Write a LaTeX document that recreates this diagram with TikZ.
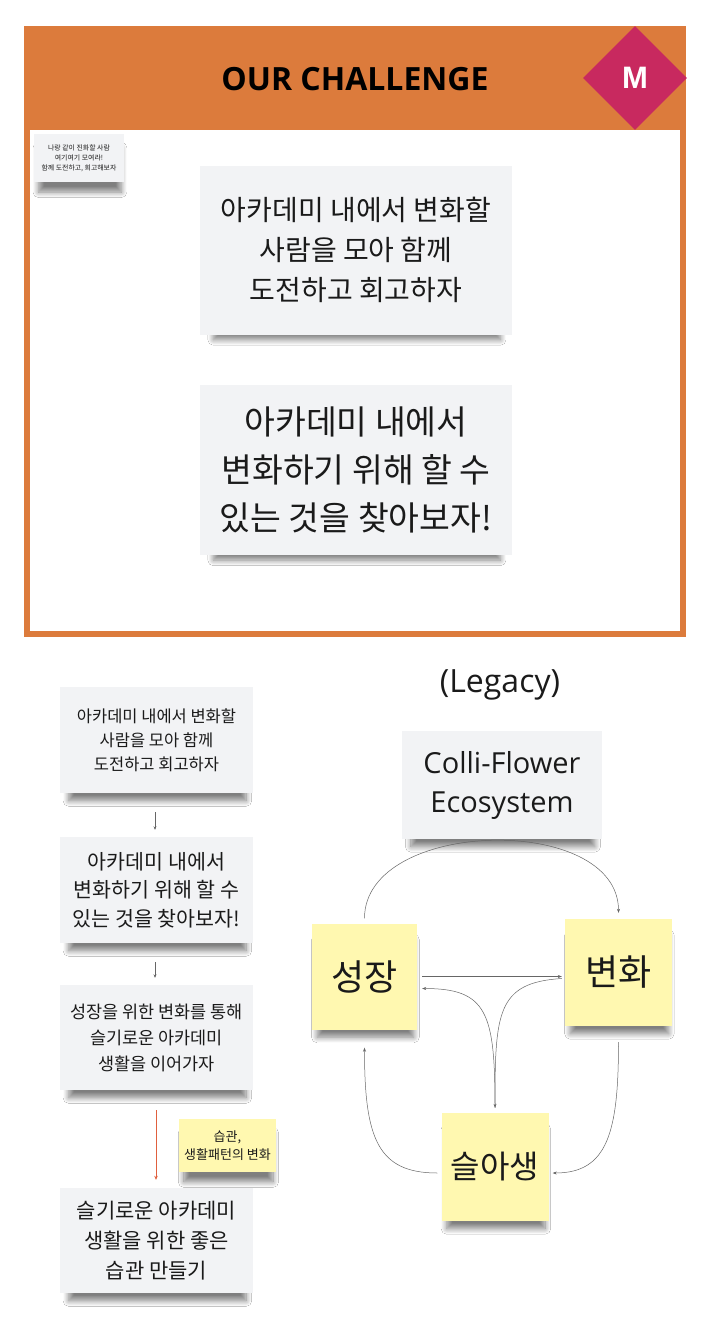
\documentclass[tikz,border=0pt]{standalone}
\usepackage{fontspec}
\setmainfont{Open Sans}
\newfontfamily\kr{Noto Sans CJK KR}
\newfontfamily\arialb{Liberation Sans}
\usetikzlibrary{shadows.blur,arrows.meta,shapes.geometric}
\definecolor{orng}{HTML}{DC7B3C}
\definecolor{mag}{HTML}{C8295F}
\definecolor{notegray}{HTML}{F2F3F5}
\definecolor{noteyel}{HTML}{FFF8B0}
\definecolor{arrgray}{HTML}{666666}
\definecolor{redarr}{HTML}{E0603E}
\definecolor{txt}{HTML}{1A1A1A}
\begin{document}
\begin{tikzpicture}[x=1pt,y=-1pt,
  notebase/.style={rectangle,inner sep=0pt,align=center,text=txt,
    blur shadow={shadow xshift=1pt,shadow yshift=-13pt,shadow scale=0.92,shadow blur radius=6pt,shadow blur steps=12,shadow opacity=50}},
  graynote/.style={notebase,fill=notegray},
  yelnote/.style={notebase,fill=noteyel},
  kfont/.style 2 args={font=\kr\fontsize{#1}{#2}\selectfont},
  smallarr/.style={draw=arrgray,line width=0.5pt,-{Stealth[length=3.5pt,width=3pt]}},
  redarrow/.style={draw=redarr,line width=0.6pt,-{Stealth[length=4pt,width=3.5pt]}},
  cycarr/.style={draw=arrgray,line width=0.5pt,-{Stealth[length=4pt,width=3pt]}}
]
\useasboundingbox (0,0) rectangle (714,1330);
\fill[white] (0,0) rectangle (714,1330);
% frame
\fill[orng] (24,26) rectangle (686,637);
\fill[white] (30,130) rectangle (680,631);
\node[font=\bfseries\fontsize{32}{32}\selectfont,text=black] (title) at (355,79) {OUR CHALLENGE};
\node[diamond,aspect=1,fill=mag,minimum width=104pt,minimum height=104pt,inner sep=0pt,text=white,
  font=\arialb\bfseries\fontsize{31}{31}\selectfont] (m) at (635,78) {M};
% top notes
\node[graynote,minimum width=90pt,minimum height=48pt,kfont={6.9}{10}] (small) at (79,158)
  {나랑 같이 진화할 사람\\여기여기 모여라!\\함께 도전하고, 회고해보자};
\node[graynote,minimum width=312pt,minimum height=169pt,kfont={28}{40}] (top1) at (356,250)
  {아카데미 내에서 변화할\\사람을 모아 함께\\도전하고 회고하자};
\node[graynote,minimum width=312pt,minimum height=170pt,kfont={33.5}{48}] (top2) at (356,470)
  {아카데미 내에서\\변화하기 위해 할 수\\있는 것을 찾아보자!};
% bottom left column
\node[graynote,minimum width=193pt,minimum height=106pt,kfont={16.5}{24}] (l1) at (156.5,740)
  {아카데미 내에서 변화할\\사람을 모아 함께\\도전하고 회고하자};
\node[graynote,minimum width=193pt,minimum height=106pt,kfont={20.6}{28.5}] (l2) at (156.5,890)
  {아카데미 내에서\\변화하기 위해 할 수\\있는 것을 찾아보자!};
\node[graynote,minimum width=193pt,minimum height=105pt,kfont={17.5}{26}] (l3) at (156.5,1037.5)
  {성장을 위한 변화를 통해\\슬기로운 아카데미\\생활을 이어가자};
\node[graynote,minimum width=193pt,minimum height=105pt,kfont={21}{30}] (l4) at (156.5,1240.5)
  {슬기로운 아카데미\\생활을 위한 좋은\\습관 만들기};
\node[yelnote,minimum width=97pt,minimum height=53pt,kfont={13}{18}] (habit) at (227.5,1145.5)
  {습관,\\생활패턴의 변화};
\draw[smallarr,shorten <=19pt,shorten >=7pt] (l1.south -| 155,0) -- (l2.north -| 155,0);
\draw[smallarr,shorten <=19pt,shorten >=7pt] (l2.south -| 155,0) -- (l3.north -| 155,0);
\draw[redarrow,shorten <=20pt,shorten >=8pt] (l3.south -| 156,0) -- (l4.north -| 156,0);
% bottom right
\node[font=\fontsize{32}{32}\selectfont,text=txt] (legacy) at (500,685) {(Legacy)};
\node[graynote,minimum width=200pt,minimum height=108pt,font=\fontsize{29}{39}\selectfont] (colli) at (502,785)
  {Colli-Flower\\Ecosystem};
\node[yelnote,minimum width=105pt,minimum height=106pt,kfont={36}{40}] (seong) at (364.5,976.5) {성장};
\node[yelnote,minimum width=107pt,minimum height=107pt,kfont={36}{40}] (byeon) at (618.5,972.5) {변화};
\node[yelnote,minimum width=107pt,minimum height=108pt,kfont={32}{40}] (seul) at (495,1167) {슬아생};
% cycle connectors
\draw[cycarr] ([yshift=5pt]seong.north) .. controls +(0,-100) and +(0,-100) .. ([yshift=6pt]byeon.north);
\draw[cycarr] ([xshift=5pt]seong.east) -- ([xshift=-3pt]seong.east -| byeon.west);
\draw[cycarr] ([xshift=-3pt,yshift=-6pt]byeon.west) .. controls +(-65,4) and +(0,-95) .. ([yshift=5pt]seul.north);
\draw[cycarr] ([yshift=5pt]seul.north) .. controls +(0,-95) and +(65,0) .. ([xshift=5pt,yshift=-12pt]seong.east);
\draw[cycarr] ([yshift=-16pt]byeon.south) .. controls +(0,90) and +(55,0) .. ([xshift=4pt,yshift=-6pt]seul.east);
\draw[cycarr] ([xshift=-4pt,yshift=-6pt]seul.west) .. controls +(-60,0) and +(0,90) .. ([yshift=-18pt]seong.south);
\end{tikzpicture}
\end{document}
